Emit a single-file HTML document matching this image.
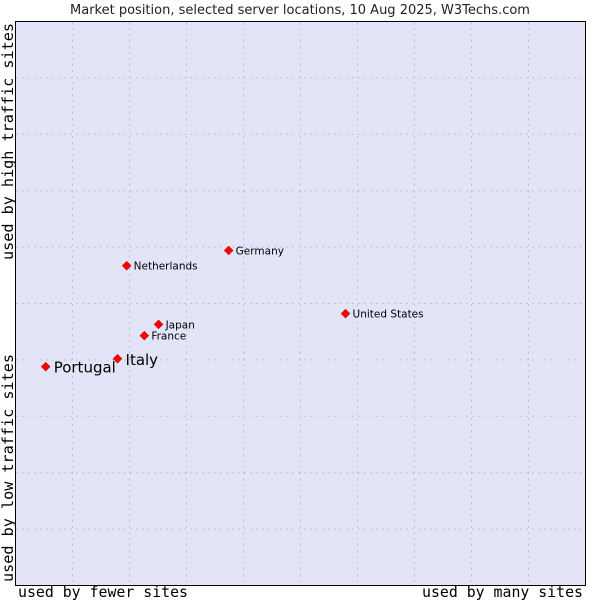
<!DOCTYPE html>
<html><head><meta charset="utf-8"><style>
body{margin:0;background:#fff;width:600px;height:600px;overflow:hidden}
svg{display:block}
</style></head><body>
<svg width="600" height="600">
<text x="300" y="14" text-anchor="middle" font-family="DejaVu Sans, sans-serif" font-size="13" fill="#222">Market position, selected server locations, 10 Aug 2025, W3Techs.com</text>
<rect x="15.5" y="21.5" width="570" height="564" fill="#e4e4f8" stroke="#000"/>
<g id="grid"></g>
<g id="pts"></g>
<text x="18" y="597" textLength="170" lengthAdjust="spacingAndGlyphs" font-family="DejaVu Sans Mono, Liberation Mono, monospace" font-size="15" fill="#000">used by fewer sites</text>
<text x="422" y="597" textLength="161" lengthAdjust="spacingAndGlyphs" font-family="DejaVu Sans Mono, Liberation Mono, monospace" font-size="15" fill="#000">used by many sites</text>
<text transform="translate(13,582) rotate(-90)" textLength="228" lengthAdjust="spacingAndGlyphs" font-family="DejaVu Sans Mono, Liberation Mono, monospace" font-size="15" fill="#000">used by low traffic sites</text>
<text transform="translate(13,260) rotate(-90)" textLength="237" lengthAdjust="spacingAndGlyphs" font-family="DejaVu Sans Mono, Liberation Mono, monospace" font-size="15" fill="#000">used by high traffic sites</text>
</svg>
<script>
const names=["Portugal","Italy","France","Japan","Netherlands","Germany","United States"];
const xVals=[5.3,17.9,22.6,25.1,19.5,37.4,57.9];
const yVals=[38.8,40.2,44.3,46.3,56.7,59.4,48.2];
const bigLabels=[true,true,false,false,false,false,false];
const NS="http://www.w3.org/2000/svg";
const X=v=>15.5+v*5.7, Y=v=>585.5-v*5.64;
const grid=document.getElementById('grid');
for(let i=1;i<10;i++){
  const l=document.createElementNS(NS,'line');
  
  
  l.setAttribute('x1',X(i*10));l.setAttribute('x2',X(i*10));l.setAttribute('y1',22);l.setAttribute('y2',585);
  l.setAttribute('stroke','#c4c4c4');l.setAttribute('stroke-dasharray','2,4');grid.appendChild(l);
  const h=document.createElementNS(NS,'line');
  
  
  h.setAttribute('x1',16);h.setAttribute('x2',585);h.setAttribute('y1',Y(i*10));h.setAttribute('y2',Y(i*10));
  h.setAttribute('stroke','#c4c4c4');h.setAttribute('stroke-dasharray','2,4');grid.appendChild(h);
}
const pts=document.getElementById('pts');
names.forEach((n,i)=>{
  const x=X(xVals[i]),y=Y(yVals[i]);
  const d=document.createElementNS(NS,'path');
  
  
  d.setAttribute('d',`M${x} ${y-4.5}L${x+4.5} ${y}L${x} ${y+4.5}L${x-4.5} ${y}Z`);
  d.setAttribute('fill','#f00');d.setAttribute('stroke','#a00');d.setAttribute('stroke-width','0.5');
  pts.appendChild(d);
  const t=document.createElementNS(NS,'text');
  
  
  const big=bigLabels[i];
  t.setAttribute('x',x+(big?8:7));t.setAttribute('y',y+(big?6:4));
  t.setAttribute('font-family','DejaVu Sans, sans-serif');
  t.setAttribute('font-size',big?15:10.5);t.setAttribute('fill','#000');
  t.textContent=n;pts.appendChild(t);
});
</script>
</body></html>
